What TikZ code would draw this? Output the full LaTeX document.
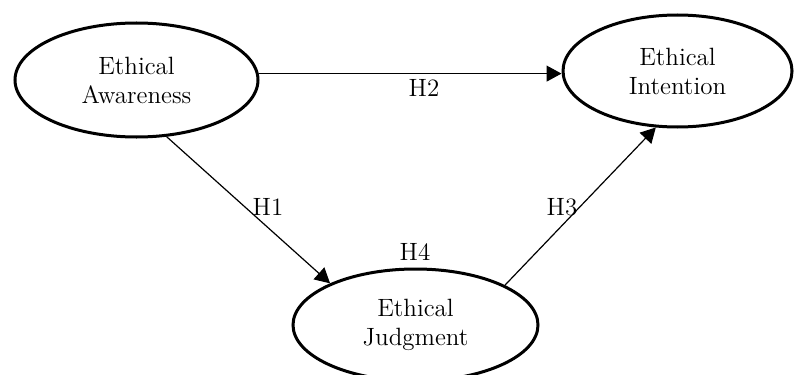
\documentclass[tikz,border=0pt]{standalone}
\usetikzlibrary{arrows.meta,shapes.geometric}
\begin{document}
\begin{tikzpicture}[x=0.5pt,y=-0.5pt,
  construct/.style={ellipse,draw,line width=1.5pt,inner sep=0pt,align=center,
    font=\fontsize{12.5}{14.5}\selectfont},
  link/.style={line width=0.6pt,-{Triangle[length=7.5pt,width=8pt]}},
  hyp/.style={inner sep=0pt,font=\fontsize{12.5}{14}\selectfont}]
\useasboundingbox (0,0) rectangle (795,374);
\node[construct,minimum width=121.5pt,minimum height=57pt] (A) at (136.5,80) {Ethical\\Awareness};
\node[construct,minimum width=114.5pt,minimum height=56pt] (C) at (677.5,71) {Ethical\\Intention};
\node[construct,minimum width=122.5pt,minimum height=56pt] (B) at (415.5,325) {Ethical\\Judgment};
\draw[link] (A.3.3) -- (A.3.3 -| C.west);
\draw[link] (A.-62) -- (B.154);
\draw[link] (B.24) -- (C.-111);
\node[hyp] (h2) at (424,88) {H2};
\node[hyp] (h1) at (268,207) {H1};
\node[hyp] (h3) at (562,207) {H3};
\node[hyp] (h4) at (415,252) {H4};
\end{tikzpicture}
\end{document}
